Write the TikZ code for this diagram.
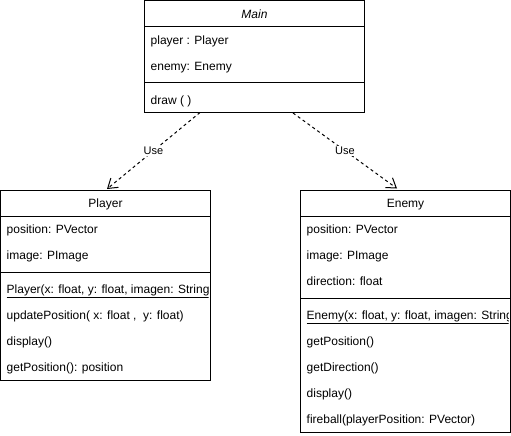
\documentclass[tikz,border=0pt]{standalone}
\usepackage{fontspec}
\setmainfont{Liberation Sans}
\usetikzlibrary{arrows.meta,calc}
\begin{document}
\begin{tikzpicture}[x=1pt,y=-1pt,
  classbox/.style={draw, line width=1pt, inner sep=0pt, outer sep=0pt, anchor=north west, fill=white},
  member/.style={anchor=base west, inner sep=0pt, font=\fontsize{12}{14}\selectfont},
  classname/.style={anchor=base, inner sep=0pt, font=\fontsize{12}{14}\selectfont},
  divider/.style={line width=1pt},
  usearrow/.style={line width=1pt, dash pattern=on 3pt off 3pt, -{Straight Barb[length=9pt,width=12pt,line width=1pt]}},
  uselabel/.style={fill=white, inner sep=1pt, font=\fontsize{11}{13}\selectfont}]
\useasboundingbox (0,0) rectangle (511,436);

% ---- class Main ----
\node[classbox, minimum width=220pt, minimum height=112pt] (main) at (144.5,0.5) {};
\node[classname, font=\fontsize{12}{14}\selectfont\itshape] (mainT) at ($(main.north)+(0,18)$) {Main};
\draw[divider] ($(main.north west)+(0,26)$) -- ($(main.north east)+(0,26)$);
\node[member] (mainA1) at ($(main.north west)+(6,44)$) {player : Player};
\node[member] (mainA2) at ($(main.north west)+(6,70)$) {enemy: Enemy};
\draw[divider] ($(main.north west)+(0,82)$) -- ($(main.north east)+(0,82)$);
\node[member] (mainM1) at ($(main.north west)+(6,104)$) {draw ( )};

% ---- class Player ----
\node[classbox, minimum width=210pt, minimum height=190pt] (player) at (0.5,190.5) {};
\node[classname] (playerT) at ($(player.north)+(0,17)$) {Player};
\draw[divider] ($(player.north west)+(0,26)$) -- ($(player.north east)+(0,26)$);
\node[member] (playerA1) at ($(player.north west)+(6,43)$) {position: PVector};
\node[member] (playerA2) at ($(player.north west)+(6,69)$) {image: PImage};
\draw[divider] ($(player.north west)+(0,82)$) -- ($(player.north east)+(0,82)$);
\begin{scope}
  \clip ($(player.north west)+(0,86)$) rectangle ($(player.north east)+(-2,112)$);
  \node[member] (playerM1) at ($(player.north west)+(6,103)$) {\underline{Player(x: float, y: float, imagen: String)}};
\end{scope}
\node[member] (playerM2) at ($(player.north west)+(6,129)$) {updatePosition( x: float ,\ \ y: float)};
\node[member] (playerM3) at ($(player.north west)+(6,155)$) {display()};
\node[member] (playerM4) at ($(player.north west)+(6,181)$) {getPosition(): position};

% ---- class Enemy ----
\node[classbox, minimum width=210pt, minimum height=242pt] (enemy) at (300.5,190.5) {};
\node[classname] (enemyT) at ($(enemy.north)+(0,17)$) {Enemy};
\draw[divider] ($(enemy.north west)+(0,26)$) -- ($(enemy.north east)+(0,26)$);
\node[member] (enemyA1) at ($(enemy.north west)+(6,43)$) {position: PVector};
\node[member] (enemyA2) at ($(enemy.north west)+(6,69)$) {image: PImage};
\node[member] (enemyA3) at ($(enemy.north west)+(6,95)$) {direction: float};
\draw[divider] ($(enemy.north west)+(0,108)$) -- ($(enemy.north east)+(0,108)$);
\begin{scope}
  \clip ($(enemy.north west)+(0,112)$) rectangle ($(enemy.north east)+(-2,138)$);
  \node[member] (enemyM1) at ($(enemy.north west)+(6,129)$) {\underline{Enemy(x: float, y: float, imagen: String)}};
\end{scope}
\node[member] (enemyM2) at ($(enemy.north west)+(6,155)$) {getPosition()};
\node[member] (enemyM3) at ($(enemy.north west)+(6,181)$) {getDirection()};
\node[member] (enemyM4) at ($(enemy.north west)+(6,207)$) {display()};
\node[member] (enemyM5) at ($(enemy.north west)+(6,233)$) {fireball(playerPosition: PVector)};

% ---- dependencies ----
\draw[usearrow] ($(main.south west)+(55.5,0)$) -- node[uselabel] {Use} ($(player.north west)+(106.5,-1.5)$);
\draw[usearrow] ($(main.south west)+(148.5,0.5)$) -- node[uselabel] {Use} ($(enemy.north west)+(96.5,-2)$);
\end{tikzpicture}
\end{document}
